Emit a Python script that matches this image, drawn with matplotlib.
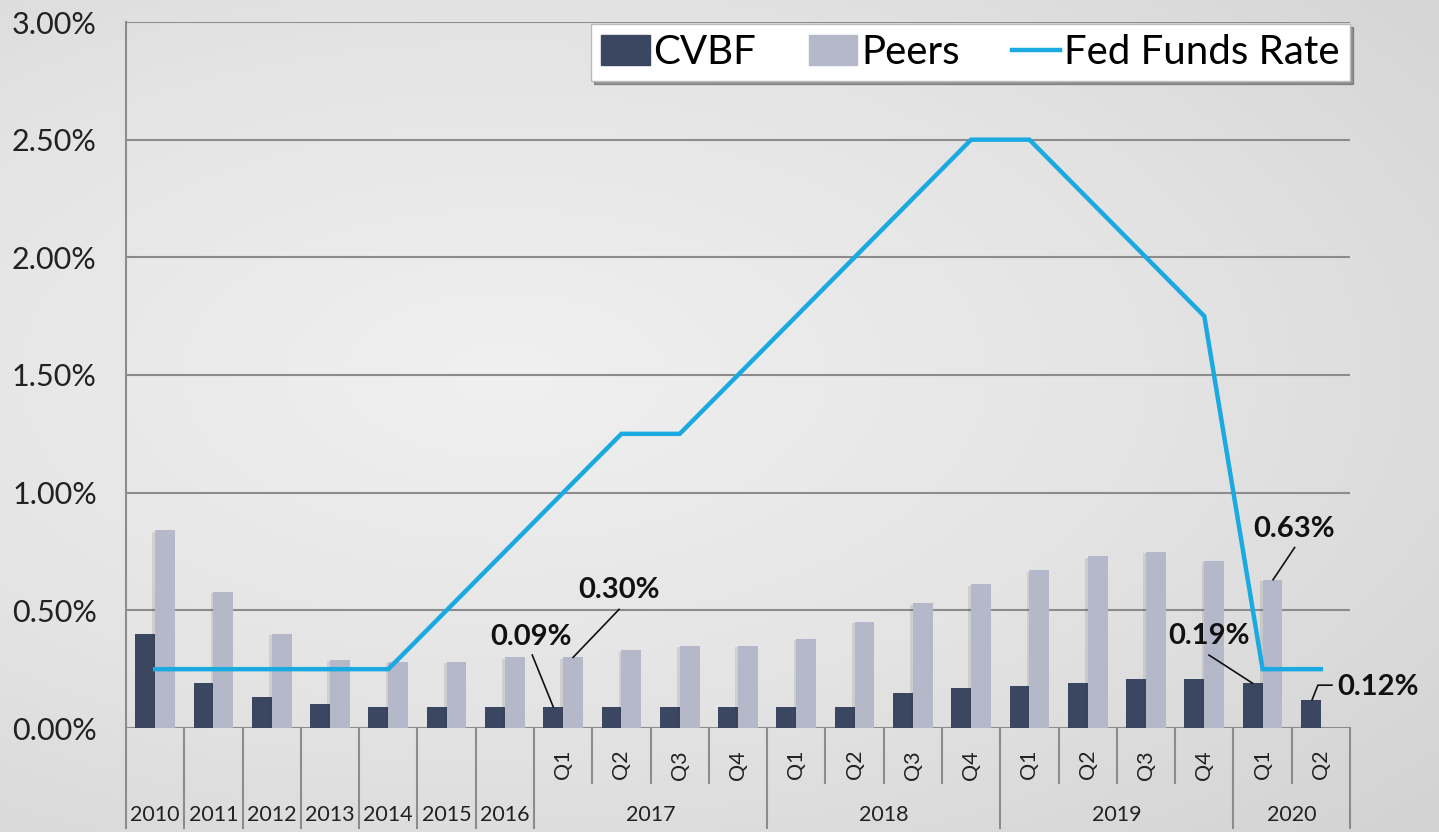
import numpy as np
import matplotlib
matplotlib.use('Agg')
import matplotlib.pyplot as plt
import matplotlib.patheffects as pe
from matplotlib.patches import Patch
from matplotlib.lines import Line2D
from matplotlib.ticker import PercentFormatter

plt.rcParams['font.family'] = ['Lato', 'DejaVu Sans']

# data (percent)
periods = ['2010', '2011', '2012', '2013', '2014', '2015', '2016',
           'Q1', 'Q2', 'Q3', 'Q4', 'Q1', 'Q2', 'Q3', 'Q4',
           'Q1', 'Q2', 'Q3', 'Q4', 'Q1', 'Q2']
years = ['2017', '2018', '2019', '2020']
cvbf = [0.40, 0.19, 0.13, 0.10, 0.09, 0.09, 0.09,
        0.09, 0.09, 0.09, 0.09, 0.09, 0.09, 0.15, 0.17,
        0.18, 0.19, 0.21, 0.21, 0.19, 0.12]
peers = [0.84, 0.58, 0.40, 0.29, 0.28, 0.28, 0.30,
         0.30, 0.33, 0.35, 0.35, 0.38, 0.45, 0.53, 0.61,
         0.67, 0.73, 0.75, 0.71, 0.63, np.nan]
fed_funds = [0.25, 0.25, 0.25, 0.25, 0.25, 0.50, 0.75,
             1.00, 1.25, 1.25, 1.50, 1.75, 2.00, 2.25, 2.50,
             2.50, 2.25, 2.00, 1.75, 0.25, 0.25]

c_cvbf = '#3b4660'
c_peers = '#b5b8c9'
c_fed = '#1aa9e0'
c_grid = '#8c8c8c'

fig = plt.figure(figsize=(14.39, 8.32), dpi=100)

# background gradient
bg = fig.add_axes([0, 0, 1, 1], zorder=-10)
yy, xx = np.mgrid[0:1:300j, 0:1:500j]
r = np.sqrt(((xx - 0.35) / 1.0) ** 2 + ((yy - 0.45) / 0.9) ** 2)
bg.imshow(r, cmap=matplotlib.colors.LinearSegmentedColormap.from_list(
    'bg', ['#f0f0f0', '#e4e4e4', '#d2d2d2']), aspect='auto',
    extent=[0, 1, 0, 1], vmin=0, vmax=0.9)
bg.axis('off')

ax = fig.add_axes([126 / 1439, 104 / 832, 1224 / 1439, 706 / 832])
ax.patch.set_alpha(0)

x = np.arange(len(periods))
w = 0.34
shadow = [pe.SimplePatchShadow(offset=(-2, -1), alpha=0.12), pe.Normal()]
b1 = ax.bar(x - w / 2, cvbf, w, color=c_cvbf, zorder=3)
b2 = ax.bar(x + w / 2, peers, w, color=c_peers, zorder=3)
for b in b2:
    b.set_path_effects(shadow)
ax.plot(x, fed_funds, color=c_fed, lw=3.2, zorder=4, solid_joinstyle='miter')

ax.set_xlim(-0.5, len(periods) - 0.5)
ax.set_ylim(0, 3.0)
ax.set_yticks(np.arange(0, 3.01, 0.5))
ax.yaxis.set_major_formatter(PercentFormatter(decimals=2))
ax.tick_params(axis='y', length=0, pad=21, labelsize=22, colors='#222222')
ax.set_xticks([])
ax.grid(axis='y', color=c_grid, lw=1.5, zorder=0)
for s in ['top', 'right', 'bottom']:
    ax.spines[s].set_visible(False)
ax.spines['left'].set_color(c_grid)
ax.spines['left'].set_linewidth(1.5)
ax.spines['left'].set_bounds(0, 3.0)

# category axis below the plot
tr = ax.get_xaxis_transform()
full = {0, 1, 2, 3, 4, 5, 6, 7, 11, 15, 19, 21}
for k in range(len(periods) + 1):
    bottom = -0.1416 if k in full else -0.078
    ax.plot([k - 0.5, k - 0.5], [0, bottom], transform=tr, color=c_grid,
            lw=1.5, clip_on=False)
for i, p in enumerate(periods):
    if i < 7:
        ax.text(i, -0.123, p, transform=tr, ha='center', va='center',
                fontsize=15.5, color='#222222')
    else:
        ax.text(i, -0.052, p, transform=tr, ha='center', va='center',
                fontsize=15.5, rotation=90, color='#222222')
for yr, xc in zip(years, [8.5, 12.5, 16.5, 19.5]):
    ax.text(xc, -0.123, yr, transform=tr, ha='center', va='center',
            fontsize=15.5, color='#222222')

# callouts
callouts = [
    ('0.30%', (7.96, 0.585), [(7.17, 0.30), (7.96, 0.504)]),
    ('0.09%', (6.45, 0.386), [(6.83, 0.09), (6.47, 0.31)]),
    ('0.63%', (19.54, 0.847), [(19.18, 0.63), (19.55, 0.767)]),
    ('0.19%', (18.08, 0.39), [(18.83, 0.19), (18.08, 0.31)]),
    ('0.12%', (20.98, 0.174), [(19.85, 0.12), (19.95, 0.182), (20.19, 0.182)]),
]
for txt, (tx, ty), pts in callouts:
    ax.text(tx, ty, txt, ha='center', va='center', fontsize=21,
            fontweight='bold', color='#111111', zorder=6, clip_on=False)
    px, py = zip(*pts)
    ax.plot(px, py, color='#111111', lw=1.2, zorder=6, clip_on=False)

handles = [Patch(color=c_cvbf), Patch(color=c_peers),
           Line2D([], [], color=c_fed, lw=3.2)]
leg = ax.legend(handles, ['CVBF', 'Peers', 'Fed Funds Rate'], ncol=3,
                loc='upper right', bbox_to_anchor=(1.0, 0.997),
                borderaxespad=0, fontsize=29, frameon=True, fancybox=False,
                shadow=True, framealpha=1, edgecolor='#bbbbbb',
                handlelength=1.2, handleheight=0.75, handletextpad=0.1,
                columnspacing=1.3, borderpad=0.25)
leg.get_frame().set_linewidth(1.0)
leg.set_zorder(7)

fig.savefig('out.png', dpi=100)
